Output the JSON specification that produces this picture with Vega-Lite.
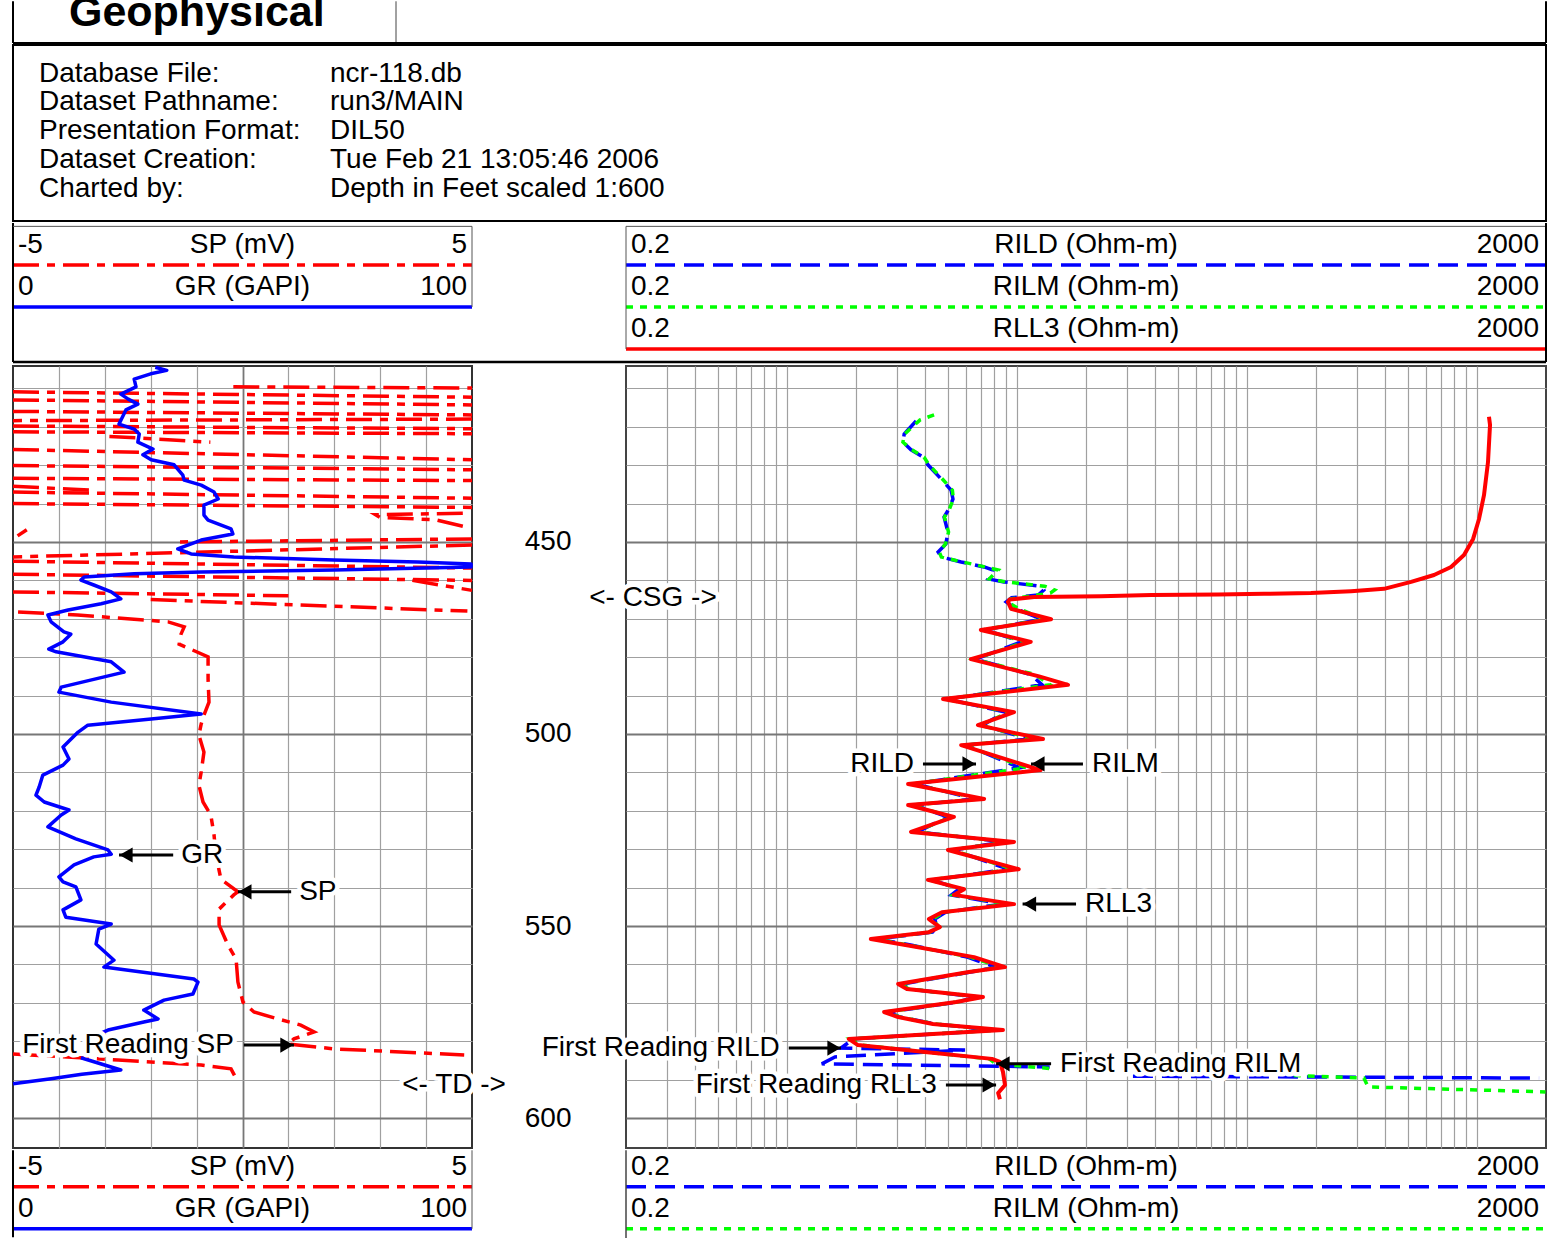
{
"$schema": "https://vega.github.io/schema/vega-lite/v6.json",
"background": "white",
"padding": {"left": 5, "right": 10, "top": 0, "bottom": 0},
"config": {"view": {"stroke": null}, "font": "Liberation Sans", "text": {"font": "Liberation Sans", "fontSize": 28, "color": "black"}},
"datasets": {
"info": [
{"row":1,"k":"Database File:","v":"ncr-118.db"},
{"row":2,"k":"Dataset Pathname:","v":"run3/MAIN"},
{"row":3,"k":"Presentation Format:","v":"DIL50"},
{"row":4,"k":"Dataset Creation:","v":"Tue Feb 21 13:05:46 2006"},
{"row":5,"k":"Charted by:","v":"Depth in Feet scaled 1:600"}
],
"hdrL": [
{"curve":"SP","title":"SP (mV)","lo":"-5","hi":"5","row":1},
{"curve":"GR","title":"GR (GAPI)","lo":"0","hi":"100","row":2}
],
"hdrR": [
{"curve":"RILD","title":"RILD (Ohm-m)","lo":"0.2","hi":"2000","row":1},
{"curve":"RILM","title":"RILM (Ohm-m)","lo":"0.2","hi":"2000","row":2},
{"curve":"RLL3","title":"RLL3 (Ohm-m)","lo":"0.2","hi":"2000","row":3}
],
"gr": [
{"depth":404.5,"gr":31,"seg":1},{"depth":405.3,"gr":33.5,"seg":1},{"depth":406.2,"gr":30,"seg":1},{"depth":407.6,"gr":26.4,"seg":1},
{"depth":409.6,"gr":26.8,"seg":1},{"depth":411.5,"gr":23.5,"seg":1},{"depth":412.8,"gr":25.1,"seg":1},{"depth":414.1,"gr":27.2,"seg":1},
{"depth":415.6,"gr":24.6,"seg":1},{"depth":419.3,"gr":23.1,"seg":1},{"depth":420.6,"gr":26.4,"seg":1},{"depth":421.9,"gr":27.5,"seg":1},
{"depth":424.0,"gr":27.2,"seg":1},{"depth":425.8,"gr":30.5,"seg":1},{"depth":427.3,"gr":28.3,"seg":1},{"depth":428.6,"gr":30.1,"seg":1},
{"depth":429.9,"gr":35.1,"seg":1},{"depth":432.6,"gr":37.0,"seg":1},{"depth":433.9,"gr":37.3,"seg":1},{"depth":435.2,"gr":41.0,"seg":1},
{"depth":437.0,"gr":43.8,"seg":1},{"depth":438.8,"gr":44.7,"seg":1},{"depth":440.4,"gr":41.6,"seg":1},{"depth":443.0,"gr":41.6,"seg":1},
{"depth":444.3,"gr":42.5,"seg":1},{"depth":446.6,"gr":47.5,"seg":1},{"depth":447.9,"gr":47.9,"seg":1},{"depth":449.5,"gr":41.0,"seg":1},
{"depth":451.8,"gr":35.9,"seg":1},{"depth":453.1,"gr":38.8,"seg":1},{"depth":453.9,"gr":48.1,"seg":1},{"depth":454.7,"gr":69.9,"seg":1},
{"depth":455.2,"gr":88.2,"seg":1},{"depth":455.7,"gr":99.8,"seg":1},{"depth":456.5,"gr":99.8,"seg":1},{"depth":457.3,"gr":69.9,"seg":1},
{"depth":457.8,"gr":41.0,"seg":1},{"depth":458.3,"gr":26.4,"seg":1},{"depth":459.1,"gr":15.5,"seg":1},{"depth":459.9,"gr":14.8,"seg":1},
{"depth":461.2,"gr":17.6,"seg":1},{"depth":463.0,"gr":21.4,"seg":1},{"depth":464.8,"gr":23.5,"seg":1},{"depth":466.1,"gr":19.2,"seg":1},
{"depth":467.7,"gr":12.0,"seg":1},{"depth":469.0,"gr":7.6,"seg":1},{"depth":470.8,"gr":8.3,"seg":1},{"depth":473.4,"gr":11.1,"seg":1},
{"depth":474.0,"gr":12.6,"seg":1},{"depth":476.0,"gr":10.9,"seg":1},{"depth":477.9,"gr":7.8,"seg":1},{"depth":478.6,"gr":9.4,"seg":1},
{"depth":481.2,"gr":21.4,"seg":1},{"depth":483.9,"gr":24.2,"seg":1},{"depth":487.8,"gr":10.5,"seg":1},{"depth":489.1,"gr":10.0,"seg":1},
{"depth":491.7,"gr":21.4,"seg":1},{"depth":494.8,"gr":41.0,"seg":1},{"depth":496.1,"gr":30.1,"seg":1},{"depth":497.7,"gr":16.3,"seg":1},
{"depth":499.5,"gr":14.2,"seg":1},{"depth":502.1,"gr":12.0,"seg":1},{"depth":503.4,"gr":10.9,"seg":1},{"depth":506.5,"gr":12.2,"seg":1},
{"depth":508.1,"gr":10.9,"seg":1},{"depth":510.7,"gr":6.5,"seg":1},{"depth":513.8,"gr":5.7,"seg":1},{"depth":515.9,"gr":5.0,"seg":1},
{"depth":517.7,"gr":6.8,"seg":1},{"depth":519.8,"gr":12.2,"seg":1},{"depth":521.1,"gr":10.5,"seg":1},{"depth":524.2,"gr":7.6,"seg":1},
{"depth":527.3,"gr":13.7,"seg":1},{"depth":530.2,"gr":20.7,"seg":1},{"depth":531.3,"gr":21.4,"seg":1},{"depth":532.0,"gr":17.6,"seg":1},
{"depth":534.1,"gr":13.3,"seg":1},{"depth":537.2,"gr":10.0,"seg":1},{"depth":538.5,"gr":10.9,"seg":1},{"depth":539.8,"gr":13.7,"seg":1},
{"depth":543.2,"gr":14.8,"seg":1},{"depth":545.8,"gr":10.9,"seg":1},{"depth":547.7,"gr":11.5,"seg":1},{"depth":549.5,"gr":21.4,"seg":1},
{"depth":550.8,"gr":18.7,"seg":1},{"depth":554.7,"gr":18.1,"seg":1},{"depth":558.9,"gr":22.0,"seg":1},{"depth":560.7,"gr":19.8,"seg":1},
{"depth":563.8,"gr":39.4,"seg":1},{"depth":564.6,"gr":40.3,"seg":1},{"depth":567.7,"gr":39.2,"seg":1},{"depth":569.3,"gr":32.9,"seg":1},
{"depth":571.9,"gr":28.5,"seg":1},{"depth":574.2,"gr":31.6,"seg":1},{"depth":575.0,"gr":28.5,"seg":1},{"depth":577.1,"gr":20.7,"seg":1},
{"depth":578.5,"gr":18.0,"seg":1},
{"depth":584.3,"gr":14.8,"seg":2},{"depth":587.5,"gr":23.5,"seg":2},{"depth":588.6,"gr":15.0,"seg":2},{"depth":589.8,"gr":8.3,"seg":2},{"depth":591.1,"gr":0.0,"seg":2}
],
"sp": [
{"depth":409.6,"sp":-0.2,"seg":"a"},{"depth":409.9,"sp":5,"seg":"a"},
{"depth":410.9,"sp":-5,"seg":"b"},{"depth":412.3,"sp":5,"seg":"b"},
{"depth":413.0,"sp":-5,"seg":"c"},{"depth":414.3,"sp":5,"seg":"c"},
{"depth":416.0,"sp":-5,"seg":"d"},{"depth":416.9,"sp":5,"seg":"d"},
{"depth":418.4,"sp":-5,"seg":"e"},{"depth":418.0,"sp":5,"seg":"e"},
{"depth":419.8,"sp":-5,"seg":"f"},{"depth":420.5,"sp":5,"seg":"f"},
{"depth":421.3,"sp":-5,"seg":"g"},{"depth":421.8,"sp":5,"seg":"g"},
{"depth":422.5,"sp":-2.9,"seg":"h"},{"depth":424.0,"sp":-0.7,"seg":"h"},
{"depth":425.9,"sp":-5,"seg":"i"},{"depth":428.6,"sp":5,"seg":"i"},
{"depth":430.1,"sp":-5,"seg":"j"},{"depth":431.2,"sp":5,"seg":"j"},
{"depth":433.4,"sp":-5,"seg":"k"},{"depth":434.0,"sp":5,"seg":"k"},
{"depth":435.5,"sp":-5,"seg":"l"},{"depth":436.5,"sp":-3.3,"seg":"l"},
{"depth":437.0,"sp":-5,"seg":"m"},{"depth":438.6,"sp":5,"seg":"m"},
{"depth":440.0,"sp":-5,"seg":"n"},{"depth":441.0,"sp":5,"seg":"n"},
{"depth":442.5,"sp":4.8,"seg":"o"},{"depth":442.9,"sp":2.9,"seg":"o"},{"depth":443.6,"sp":3.0,"seg":"o"},{"depth":444.2,"sp":4.2,"seg":"o"},{"depth":446.2,"sp":4.9,"seg":"o"},
{"depth":446.8,"sp":-4.7,"seg":"p"},{"depth":448.4,"sp":-4.9,"seg":"p"},
{"depth":450.0,"sp":-1.5,"seg":"q"},{"depth":449.2,"sp":5,"seg":"q"},
{"depth":453.9,"sp":-5,"seg":"r"},{"depth":450.8,"sp":5,"seg":"r"},
{"depth":455.0,"sp":-5,"seg":"s"},{"depth":456.8,"sp":5,"seg":"s"},
{"depth":458.4,"sp":-5,"seg":"t"},{"depth":460.0,"sp":5,"seg":"t"},
{"depth":460.0,"sp":3.7,"seg":"u"},{"depth":462.6,"sp":5,"seg":"u"},
{"depth":463.0,"sp":-5,"seg":"v"},{"depth":464.0,"sp":1.0,"seg":"v"},
{"depth":465.0,"sp":-2.0,"seg":"w"},{"depth":468.0,"sp":4.9,"seg":"w"},
{"depth":468.2,"sp":-4.89,"seg":"main"},{"depth":469.0,"sp":-3.59,"seg":"main"},{"depth":470.8,"sp":-1.62,"seg":"main"},
{"depth":472.1,"sp":-1.27,"seg":"main"},{"depth":474.0,"sp":-1.34,"seg":"main"},{"depth":476.6,"sp":-1.38,"seg":"main"},
{"depth":479.9,"sp":-0.75,"seg":"main"},{"depth":485.7,"sp":-0.75,"seg":"main"},{"depth":491.7,"sp":-0.73,"seg":"main"},
{"depth":495.1,"sp":-0.84,"seg":"main"},{"depth":497.4,"sp":-0.90,"seg":"main"},{"depth":500.3,"sp":-0.95,"seg":"main"},
{"depth":504.7,"sp":-0.84,"seg":"main"},{"depth":509.9,"sp":-0.90,"seg":"main"},{"depth":513.3,"sp":-0.95,"seg":"main"},
{"depth":517.7,"sp":-0.86,"seg":"main"},{"depth":521.1,"sp":-0.69,"seg":"main"},{"depth":526.3,"sp":-0.62,"seg":"main"},
{"depth":531.5,"sp":-0.58,"seg":"main"},{"depth":537.8,"sp":-0.47,"seg":"main"},{"depth":541.1,"sp":-0.10,"seg":"main"},
{"depth":541.9,"sp":-0.19,"seg":"main"},{"depth":545.6,"sp":-0.51,"seg":"main"},{"depth":549.7,"sp":-0.51,"seg":"main"},
{"depth":554.9,"sp":-0.32,"seg":"main"},{"depth":558.6,"sp":-0.14,"seg":"main"},{"depth":564.6,"sp":-0.10,"seg":"main"},
{"depth":569.8,"sp":0.01,"seg":"main"},{"depth":572.4,"sp":0.25,"seg":"main"},{"depth":574.2,"sp":0.77,"seg":"main"},
{"depth":575.8,"sp":1.27,"seg":"main"},{"depth":577.6,"sp":1.56,"seg":"main"},{"depth":579.4,"sp":1.12,"seg":"main"},
{"depth":580.7,"sp":0.99,"seg":"main"},{"depth":582.0,"sp":1.99,"seg":"main"},{"depth":582.8,"sp":3.45,"seg":"main"},
{"depth":583.6,"sp":4.83,"seg":"main"},
{"depth":583.3,"sp":-5,"seg":"main2"},{"depth":584.9,"sp":-2.71,"seg":"main2"},{"depth":586.2,"sp":-0.90,"seg":"main2"},
{"depth":587.2,"sp":-0.25,"seg":"main2"},{"depth":590.6,"sp":-0.10,"seg":"main2"}
],
"rll3": [
{"depth":417.4,"v":1130},{"depth":419.5,"v":1142},{"depth":429.2,"v":1119},{"depth":437.8,"v":1075},{"depth":444.0,"v":1023},
{"depth":449.2,"v":964},{"depth":453.4,"v":880},{"depth":456.5,"v":773},{"depth":458.6,"v":652},{"depth":460.4,"v":518},
{"depth":462.2,"v":395},{"depth":462.8,"v":284},{"depth":463.3,"v":190},{"depth":463.5,"v":119},{"depth":463.7,"v":75},
{"depth":463.8,"v":38.4},{"depth":464.1,"v":23.2},{"depth":464.3,"v":11.9},{"depth":465.0,"v":9.3},{"depth":465.6,"v":9.16},
{"depth":467.4,"v":9.44},{"depth":470.1,"v":14.1},{"depth":472.9,"v":6.98},{"depth":476.0,"v":11.5},{"depth":480.5,"v":6.32},
{"depth":485.0,"v":12.5},{"depth":487.2,"v":16.7},{"depth":490.9,"v":4.78},{"depth":494.3,"v":9.73},{"depth":497.7,"v":6.78},
{"depth":501.3,"v":13.0},{"depth":502.9,"v":5.73},{"depth":509.4,"v":12.7},{"depth":513.0,"v":3.37},{"depth":516.9,"v":7.21},
{"depth":518.5,"v":3.37},{"depth":521.6,"v":5.33},{"depth":525.5,"v":3.47},{"depth":528.1,"v":9.73},{"depth":530.2,"v":5.02},
{"depth":535.2,"v":10.2},{"depth":538.0,"v":4.11},{"depth":540.4,"v":5.90},{"depth":541.9,"v":5.33},{"depth":544.3,"v":9.73},
{"depth":546.4,"v":4.73},{"depth":548.2,"v":4.15},{"depth":550.3,"v":4.63},{"depth":551.6,"v":4.15},{"depth":553.4,"v":2.32},
{"depth":555.0,"v":3.33},{"depth":558.1,"v":6.52},{"depth":560.7,"v":8.89},{"depth":562.0,"v":6.19},{"depth":565.1,"v":3.05},
{"depth":566.4,"v":3.33},{"depth":568.5,"v":7.13},{"depth":569.8,"v":5.45},{"depth":572.4,"v":2.65},{"depth":573.7,"v":3.05},
{"depth":575.5,"v":4.32},{"depth":577.1,"v":8.71},{"depth":578.1,"v":4.32},{"depth":579.4,"v":1.86},{"depth":581.0,"v":2.04},
{"depth":582.8,"v":3.99},{"depth":584.6,"v":7.80},{"depth":585.4,"v":8.45},{"depth":588.0,"v":8.71},{"depth":591.4,"v":8.89},
{"depth":593.5,"v":8.3},{"depth":595.1,"v":8.45}
],
"rild": [
{"depth":418.5,"v":3.65,"seg":1},{"depth":421.9,"v":3.24,"seg":1},{"depth":424.0,"v":3.20,"seg":1},{"depth":426.0,"v":3.47,"seg":1},
{"depth":427.9,"v":3.91,"seg":1},{"depth":429.9,"v":4.11,"seg":1},{"depth":433.6,"v":4.69,"seg":1},{"depth":436.5,"v":5.18,"seg":1},
{"depth":438.8,"v":5.28,"seg":1},{"depth":441.4,"v":5.07,"seg":1},{"depth":443.5,"v":4.83,"seg":1},{"depth":447.4,"v":5.02,"seg":1},
{"depth":450.5,"v":4.92,"seg":1},{"depth":452.6,"v":4.55,"seg":1},{"depth":453.9,"v":4.69,"seg":1},{"depth":455.2,"v":5.73,"seg":1},
{"depth":456.5,"v":7.21,"seg":1},{"depth":457.3,"v":7.89,"seg":1},{"depth":459.6,"v":7.50,"seg":1},{"depth":460.4,"v":8.8,"seg":1},
{"depth":461.5,"v":12.7,"seg":1},{"depth":462.5,"v":13.1,"seg":1},{"depth":463.8,"v":12.4,"seg":1},{"depth":464.5,"v":9.5,"seg":1},
{"depth":465.6,"v":9.0,"seg":1},{"depth":467.4,"v":9.9,"seg":1},{"depth":470.1,"v":12.8,"seg":1},{"depth":472.9,"v":7.3,"seg":1},
{"depth":476.0,"v":10.5,"seg":1},{"depth":480.5,"v":6.6,"seg":1},{"depth":484.5,"v":11.5,"seg":1},{"depth":487.2,"v":12.9,"seg":1},
{"depth":490.9,"v":5.0,"seg":1},{"depth":494.3,"v":8.9,"seg":1},{"depth":497.7,"v":7.1,"seg":1},{"depth":501.3,"v":11.3,"seg":1},
{"depth":502.9,"v":6.0,"seg":1},{"depth":508.8,"v":10.3,"seg":1},{"depth":513.0,"v":3.6,"seg":1},{"depth":516.9,"v":6.6,"seg":1},
{"depth":518.5,"v":3.6,"seg":1},{"depth":521.6,"v":5.0,"seg":1},{"depth":525.5,"v":3.7,"seg":1},{"depth":528.1,"v":8.8,"seg":1},
{"depth":530.2,"v":5.3,"seg":1},{"depth":535.2,"v":9.2,"seg":1},{"depth":538.0,"v":4.3,"seg":1},{"depth":540.4,"v":5.6,"seg":1},
{"depth":541.9,"v":5.2,"seg":1},{"depth":544.3,"v":8.6,"seg":1},{"depth":546.4,"v":4.9,"seg":1},{"depth":548.2,"v":4.4,"seg":1},
{"depth":550.3,"v":4.5,"seg":1},{"depth":551.6,"v":4.3,"seg":1},{"depth":553.4,"v":2.45,"seg":1},{"depth":555.0,"v":3.5,"seg":1},
{"depth":558.1,"v":6.1,"seg":1},{"depth":560.7,"v":8.1,"seg":1},{"depth":562.0,"v":6.3,"seg":1},{"depth":565.1,"v":3.2,"seg":1},
{"depth":566.4,"v":3.4,"seg":1},{"depth":568.5,"v":6.7,"seg":1},{"depth":569.8,"v":5.5,"seg":1},{"depth":572.4,"v":2.8,"seg":1},
{"depth":573.7,"v":3.1,"seg":1},{"depth":575.5,"v":4.4,"seg":1},{"depth":577.1,"v":8.0,"seg":1},{"depth":578.1,"v":4.4,"seg":1},
{"depth":579.4,"v":1.95,"seg":1},{"depth":581.8,"v":1.72,"seg":1},{"depth":582.3,"v":5.96,"seg":1},{"depth":584.1,"v":1.62,"seg":1},
{"depth":585.9,"v":1.42,"seg":1},{"depth":586.7,"v":13.9,"seg":1},
{"depth":589.1,"v":32,"seg":2},{"depth":589.6,"v":1866,"seg":2}
],
"rilm": [
{"depth":416.9,"v":4.37,"seg":1},{"depth":418.2,"v":3.8,"seg":1},{"depth":421.9,"v":3.25,"seg":1},{"depth":424.0,"v":3.2,"seg":1},
{"depth":426.0,"v":3.5,"seg":1},{"depth":427.9,"v":3.95,"seg":1},{"depth":429.9,"v":4.15,"seg":1},{"depth":433.6,"v":4.75,"seg":1},
{"depth":436.5,"v":5.25,"seg":1},{"depth":438.8,"v":5.3,"seg":1},{"depth":441.4,"v":5.1,"seg":1},{"depth":443.5,"v":4.85,"seg":1},
{"depth":447.4,"v":5.05,"seg":1},{"depth":450.5,"v":4.9,"seg":1},{"depth":452.6,"v":4.6,"seg":1},{"depth":453.9,"v":4.7,"seg":1},
{"depth":455.2,"v":5.8,"seg":1},{"depth":456.5,"v":7.3,"seg":1},{"depth":457.3,"v":8.3,"seg":1},{"depth":459.6,"v":7.6,"seg":1},
{"depth":460.4,"v":9.0,"seg":1},{"depth":461.5,"v":13.2,"seg":1},{"depth":462.5,"v":14.6,"seg":1},{"depth":463.3,"v":14.0,"seg":1},
{"depth":464.0,"v":11.8,"seg":1},{"depth":464.8,"v":9.4,"seg":1},{"depth":465.6,"v":9.1,"seg":1},{"depth":467.4,"v":10.2,"seg":1},
{"depth":470.1,"v":13.3,"seg":1},{"depth":472.9,"v":7.1,"seg":1},{"depth":476.0,"v":10.9,"seg":1},{"depth":480.5,"v":6.5,"seg":1},
{"depth":484.5,"v":12.0,"seg":1},{"depth":487.2,"v":14.0,"seg":1},{"depth":490.9,"v":4.9,"seg":1},{"depth":494.3,"v":9.3,"seg":1},
{"depth":497.7,"v":6.9,"seg":1},{"depth":501.3,"v":12.0,"seg":1},{"depth":502.9,"v":5.9,"seg":1},{"depth":508.8,"v":11.0,"seg":1},
{"depth":513.0,"v":3.5,"seg":1},{"depth":516.9,"v":6.9,"seg":1},{"depth":518.5,"v":3.5,"seg":1},{"depth":521.6,"v":5.2,"seg":1},
{"depth":525.5,"v":3.6,"seg":1},{"depth":528.1,"v":9.2,"seg":1},{"depth":530.2,"v":5.2,"seg":1},{"depth":535.2,"v":9.7,"seg":1},
{"depth":538.0,"v":4.2,"seg":1},{"depth":540.4,"v":5.8,"seg":1},{"depth":541.9,"v":5.3,"seg":1},{"depth":544.3,"v":9.2,"seg":1},
{"depth":546.4,"v":4.8,"seg":1},{"depth":548.2,"v":4.3,"seg":1},{"depth":550.3,"v":4.6,"seg":1},{"depth":551.6,"v":4.2,"seg":1},
{"depth":553.4,"v":2.4,"seg":1},{"depth":555.0,"v":3.4,"seg":1},{"depth":558.1,"v":6.3,"seg":1},{"depth":560.7,"v":8.5,"seg":1},
{"depth":562.0,"v":6.2,"seg":1},{"depth":565.1,"v":3.1,"seg":1},{"depth":566.4,"v":3.4,"seg":1},{"depth":568.5,"v":6.9,"seg":1},
{"depth":569.8,"v":5.5,"seg":1},{"depth":572.4,"v":2.7,"seg":1},{"depth":573.7,"v":3.1,"seg":1},{"depth":575.5,"v":4.4,"seg":1},
{"depth":577.1,"v":8.3,"seg":1},{"depth":578.1,"v":4.4,"seg":1},{"depth":579.4,"v":1.9,"seg":1},{"depth":581.0,"v":2.1,"seg":1},
{"depth":582.8,"v":4.0,"seg":1},{"depth":584.6,"v":7.6,"seg":1},{"depth":585.9,"v":8.13,"seg":1},{"depth":587.2,"v":14.5,"seg":1},
{"depth":588.9,"v":160,"seg":2},{"depth":589.6,"v":323,"seg":2},{"depth":591.9,"v":337,"seg":2},{"depth":593.2,"v":1990,"seg":2}
],
"annL": [
{"label":"GR","depth":531.5,"tip":23.1,"tail":34.9,"dir":"L"},
{"label":"SP","depth":541.1,"tip":49.0,"tail":60.6,"dir":"L"},
{"label":"First Reading SP","depth":581.0,"tip":61.2,"tail":50.3,"dir":"R"}
],
"noteL": [{"label":"<- TD ->","depth":591.4,"at":96.1}],
"annR": [
{"label":"RILD","depth":507.8,"tip":6.65,"tail":3.91,"dir":"R"},
{"label":"RILM","depth":507.8,"tip":11.53,"tail":19.4,"dir":"L"},
{"label":"RLL3","depth":544.3,"tip":10.6,"tail":18.1,"dir":"L"},
{"label":"First Reading RILD","depth":581.8,"tip":1.72,"tail":1.02,"dir":"R"},
{"label":"First Reading RILM","depth":585.9,"tip":8.13,"tail":14.1,"dir":"L"},
{"label":"First Reading RLL3","depth":591.4,"tip":8.13,"tail":4.92,"dir":"R"}
],
"noteR": [{"label":"<- CSG ->","depth":464.6,"at":0.262}]
},
"spacing": 0,
"vconcat": [
{
 "spacing": 0, "bounds": "flush",
 "hconcat": [
  {"width": 383, "height": 43, "data": {"values": [{}]},
   "layer": [
    {"mark": {"type": "text", "fontSize": 43, "fontWeight": "bold", "align": "center", "baseline": "alphabetic", "clip": true},
     "encoding": {"x": {"datum": 0.48, "type": "quantitative", "scale": {"domain": [0,1]}, "axis": null},
                  "y": {"datum": 0.6, "type": "quantitative", "scale": {"domain": [0,1], "reverse": true}, "axis": null},
                  "text": {"value": "Geophysical"}}},
    {"mark": {"type": "rule", "color": "black", "strokeWidth": 2},
     "encoding": {"x": {"datum": 0, "type": "quantitative", "scale": {"domain": [0,1]}, "axis": null},
                  "y": {"datum": 0.03, "type": "quantitative", "scale": {"domain": [0,1], "reverse": true}, "axis": null}, "y2": {"datum": 1}}},
    {"mark": {"type": "rule", "color": "#444", "strokeWidth": 1},
     "encoding": {"x": {"datum": 1, "type": "quantitative", "scale": {"domain": [0,1]}, "axis": null},
                  "y": {"datum": 0.03, "type": "quantitative", "scale": {"domain": [0,1], "reverse": true}, "axis": null}, "y2": {"datum": 1}}},
    {"mark": {"type": "rule", "color": "black", "strokeWidth": 2},
     "encoding": {"x": {"datum": 0, "type": "quantitative", "scale": {"domain": [0,1]}, "axis": null}, "x2": {"datum": 1},
                  "y": {"datum": 1, "type": "quantitative", "scale": {"domain": [0,1], "reverse": true}, "axis": null}}}
   ]},
  {"width": 1150, "height": 43, "data": {"values": [{}]},
   "layer": [
    {"mark": {"type": "rule", "color": "black", "strokeWidth": 2},
     "encoding": {"x": {"datum": 1, "type": "quantitative", "scale": {"domain": [0,1]}, "axis": null},
                  "y": {"datum": 0.03, "type": "quantitative", "scale": {"domain": [0,1], "reverse": true}, "axis": null}, "y2": {"datum": 1}}},
    {"mark": {"type": "rule", "color": "black", "strokeWidth": 2},
     "encoding": {"x": {"datum": 0, "type": "quantitative", "scale": {"domain": [0,1]}, "axis": null}, "x2": {"datum": 1},
                  "y": {"datum": 1, "type": "quantitative", "scale": {"domain": [0,1], "reverse": true}, "axis": null}}}
   ]}
 ]
},
{
 "width": 1533, "height": 176,
 "view": {"stroke": "black", "strokeWidth": 2},
 "data": {"name": "info"},
 "encoding": {"y": {"field": "row", "type": "quantitative", "scale": {"domain": [0, 6.122], "reverse": true}, "axis": null}},
 "layer": [
  {"mark": {"type": "text", "align": "left", "baseline": "middle", "dx": 26, "fontSize": 28},
   "encoding": {"x": {"datum": 0, "type": "quantitative", "scale": {"domain": [0,1]}, "axis": null}, "text": {"field": "k"}}},
  {"mark": {"type": "text", "align": "left", "baseline": "middle", "dx": 317, "fontSize": 28},
   "encoding": {"x": {"datum": 0, "type": "quantitative", "scale": {"domain": [0,1]}, "axis": null}, "text": {"field": "v"}}}
 ]
},
{
 "spacing": 0, "bounds": "flush",
 "hconcat": [
  {"width": 459, "height": 139,
   "layer": [
    {"data": {"name": "hdrL"}, "mark": {"type": "rule", "strokeWidth": 3.5},
     "encoding": {"x": {"datum": 0, "type": "quantitative", "scale": {"domain": [0,1]}, "axis": null}, "x2": {"datum": 1},
                  "y": {"field": "row", "type": "quantitative", "scale": {"domain": [0, 3.31], "reverse": true}, "axis": null},
                  "color": {"field": "curve", "type": "nominal", "scale": {"domain": ["SP","GR","RILD","RILM","RLL3"], "range": ["#ff0000","#0000ff","#0000ff","#00ff00","#ff0000"]}, "legend": null},
                  "strokeDash": {"field": "curve", "type": "nominal", "scale": {"domain": ["SP","GR","RILD","RILM","RLL3"], "range": [[26,8,8,8],[1,0],[20,9],[7,7],[1,0]]}, "legend": null}}},
    {"data": {"name": "hdrL"}, "mark": {"type": "text", "align": "left", "baseline": "middle", "dx": 5, "dy": -20, "fontSize": 28},
     "encoding": {"x": {"datum": 0, "type": "quantitative", "scale": {"domain": [0,1]}, "axis": null},
                  "y": {"field": "row", "type": "quantitative", "scale": {"domain": [0, 3.31], "reverse": true}, "axis": null}, "text": {"field": "lo"}}},
    {"data": {"name": "hdrL"}, "mark": {"type": "text", "align": "center", "baseline": "middle", "dy": -20, "fontSize": 28},
     "encoding": {"x": {"datum": 0.5, "type": "quantitative", "scale": {"domain": [0,1]}, "axis": null},
                  "y": {"field": "row", "type": "quantitative", "scale": {"domain": [0, 3.31], "reverse": true}, "axis": null}, "text": {"field": "title"}}},
    {"data": {"name": "hdrL"}, "mark": {"type": "text", "align": "right", "baseline": "middle", "dx": -5, "dy": -20, "fontSize": 28},
     "encoding": {"x": {"datum": 1, "type": "quantitative", "scale": {"domain": [0,1]}, "axis": null},
                  "y": {"field": "row", "type": "quantitative", "scale": {"domain": [0, 3.31], "reverse": true}, "axis": null}, "text": {"field": "hi"}}},
    {"data": {"values": [{}]}, "mark": {"type": "rule", "color": "black", "strokeWidth": 2},
     "encoding": {"x": {"datum": 0, "type": "quantitative", "scale": {"domain": [0,1]}, "axis": null},
                  "y": {"datum": 0, "type": "quantitative", "scale": {"domain": [0, 3.31], "reverse": true}, "axis": null}, "y2": {"datum": 3.31}}},
    {"data": {"values": [{}]}, "mark": {"type": "rule", "color": "#555", "strokeWidth": 1},
     "encoding": {"x": {"datum": 0, "type": "quantitative", "scale": {"domain": [0,1]}, "axis": null}, "x2": {"datum": 1},
                  "y": {"datum": 0.08, "type": "quantitative", "scale": {"domain": [0, 3.31], "reverse": true}, "axis": null}}},
    {"data": {"values": [{}]}, "mark": {"type": "rule", "color": "#555", "strokeWidth": 1},
     "encoding": {"x": {"datum": 1, "type": "quantitative", "scale": {"domain": [0,1]}, "axis": null},
                  "y": {"datum": 0.08, "type": "quantitative", "scale": {"domain": [0, 3.31], "reverse": true}, "axis": null}, "y2": {"datum": 2}}},
    {"data": {"values": [{}]}, "mark": {"type": "rule", "color": "black", "strokeWidth": 2.5},
     "encoding": {"x": {"datum": 0, "type": "quantitative", "scale": {"domain": [0,1]}, "axis": null}, "x2": {"datum": 1},
                  "y": {"datum": 3.31, "type": "quantitative", "scale": {"domain": [0, 3.31], "reverse": true}, "axis": null}}}
   ]},
  {"width": 154, "height": 139, "data": {"values": [{}]},
   "mark": {"type": "rule", "color": "black", "strokeWidth": 2.5},
   "encoding": {"x": {"datum": 0, "type": "quantitative", "scale": {"domain": [0,1]}, "axis": null}, "x2": {"datum": 1},
                "y": {"datum": 3.31, "type": "quantitative", "scale": {"domain": [0, 3.31], "reverse": true}, "axis": null}}},
  {"width": 920, "height": 139,
   "layer": [
    {"data": {"name": "hdrR"}, "mark": {"type": "rule", "strokeWidth": 3.5},
     "encoding": {"x": {"datum": 0, "type": "quantitative", "scale": {"domain": [0,1]}, "axis": null}, "x2": {"datum": 1},
                  "y": {"field": "row", "type": "quantitative", "scale": {"domain": [0, 3.31], "reverse": true}, "axis": null},
                  "color": {"field": "curve", "type": "nominal", "scale": {"domain": ["SP","GR","RILD","RILM","RLL3"], "range": ["#ff0000","#0000ff","#0000ff","#00ff00","#ff0000"]}, "legend": null},
                  "strokeDash": {"field": "curve", "type": "nominal", "scale": {"domain": ["SP","GR","RILD","RILM","RLL3"], "range": [[26,8,8,8],[1,0],[20,9],[7,7],[1,0]]}, "legend": null}}},
    {"data": {"name": "hdrR"}, "mark": {"type": "text", "align": "left", "baseline": "middle", "dx": 5, "dy": -20, "fontSize": 28},
     "encoding": {"x": {"datum": 0, "type": "quantitative", "scale": {"domain": [0,1]}, "axis": null},
                  "y": {"field": "row", "type": "quantitative", "scale": {"domain": [0, 3.31], "reverse": true}, "axis": null}, "text": {"field": "lo"}}},
    {"data": {"name": "hdrR"}, "mark": {"type": "text", "align": "center", "baseline": "middle", "dy": -20, "fontSize": 28},
     "encoding": {"x": {"datum": 0.5, "type": "quantitative", "scale": {"domain": [0,1]}, "axis": null},
                  "y": {"field": "row", "type": "quantitative", "scale": {"domain": [0, 3.31], "reverse": true}, "axis": null}, "text": {"field": "title"}}},
    {"data": {"name": "hdrR"}, "mark": {"type": "text", "align": "right", "baseline": "middle", "dx": -7, "dy": -20, "fontSize": 28},
     "encoding": {"x": {"datum": 1, "type": "quantitative", "scale": {"domain": [0,1]}, "axis": null},
                  "y": {"field": "row", "type": "quantitative", "scale": {"domain": [0, 3.31], "reverse": true}, "axis": null}, "text": {"field": "hi"}}},
    {"data": {"values": [{}]}, "mark": {"type": "rule", "color": "#555", "strokeWidth": 1},
     "encoding": {"x": {"datum": 0, "type": "quantitative", "scale": {"domain": [0,1]}, "axis": null},
                  "y": {"datum": 0.08, "type": "quantitative", "scale": {"domain": [0, 3.31], "reverse": true}, "axis": null}, "y2": {"datum": 3}}},
    {"data": {"values": [{}]}, "mark": {"type": "rule", "color": "#555", "strokeWidth": 1},
     "encoding": {"x": {"datum": 0, "type": "quantitative", "scale": {"domain": [0,1]}, "axis": null}, "x2": {"datum": 1},
                  "y": {"datum": 0.08, "type": "quantitative", "scale": {"domain": [0, 3.31], "reverse": true}, "axis": null}}},
    {"data": {"values": [{}]}, "mark": {"type": "rule", "color": "black", "strokeWidth": 2},
     "encoding": {"x": {"datum": 1, "type": "quantitative", "scale": {"domain": [0,1]}, "axis": null},
                  "y": {"datum": 0, "type": "quantitative", "scale": {"domain": [0, 3.31], "reverse": true}, "axis": null}, "y2": {"datum": 3.31}}},
    {"data": {"values": [{}]}, "mark": {"type": "rule", "color": "black", "strokeWidth": 2.5},
     "encoding": {"x": {"datum": 0, "type": "quantitative", "scale": {"domain": [0,1]}, "axis": null}, "x2": {"datum": 1},
                  "y": {"datum": 3.31, "type": "quantitative", "scale": {"domain": [0, 3.31], "reverse": true}, "axis": null}}}
   ]}
 ]
},
{
 "spacing": 0, "bounds": "flush",
 "hconcat": [
  {"width": 459, "height": 782,
   "view": {"stroke": "#333", "strokeWidth": 2},
   "resolve": {"scale": {"x": "independent"}},
   "encoding": {"y": {"field": "depth", "type": "quantitative", "scale": {"domain": [404.17, 607.81], "reverse": true, "nice": false, "zero": false},
      "axis": {"values": [410,420,430,440,450,460,470,480,490,500,510,520,530,540,550,560,570,580,590,600], "grid": true, "labels": false, "ticks": false, "domain": false, "title": null,
               "gridColor": {"condition": {"test": "datum.value % 50 === 0", "value": "#777777"}, "value": "#a0a0a0"},
               "gridWidth": {"condition": {"test": "datum.value % 50 === 0", "value": 2}, "value": 1.2}}}},
   "layer": [
    {"data": {"name": "sp"}, "mark": {"type": "line", "color": "#ff0000", "strokeWidth": 3.5, "strokeDash": [26,8,8,8]},
     "encoding": {"x": {"field": "sp", "type": "quantitative", "scale": {"domain": [-5,5], "nice": false, "zero": false}, "axis": null},
                  "order": {"field": "depth", "type": "quantitative"}, "detail": {"field": "seg", "type": "nominal"}}},
    {"data": {"name": "gr"}, "mark": {"type": "line", "color": "#0000ff", "strokeWidth": 3.5, "strokeJoin": "round"},
     "encoding": {"x": {"field": "gr", "type": "quantitative", "scale": {"domain": [0,100], "nice": false, "zero": false},
                        "axis": {"values": [10,20,30,40,50,60,70,80,90], "grid": true, "labels": false, "ticks": false, "domain": false, "title": null,
                                 "gridColor": {"condition": {"test": "datum.value === 50", "value": "#777777"}, "value": "#a0a0a0"},
                                 "gridWidth": {"condition": {"test": "datum.value === 50", "value": 1.8}, "value": 1.2}}},
                  "order": {"field": "depth", "type": "quantitative"}, "detail": {"field": "seg", "type": "nominal"}}},
    {"data": {"name": "annL"}, "transform": [{"filter": "datum.dir === 'L'"}],
     "mark": {"type": "text", "align": "left", "baseline": "middle", "dx": 8, "fontSize": 28, "color": "white", "stroke": "white", "strokeWidth": 9, "strokeJoin": "round"},
     "encoding": {"x": {"field": "tail", "type": "quantitative", "scale": {"domain": [0,100], "nice": false, "zero": false}, "axis": null}, "text": {"field": "label"}}},
    {"data": {"name": "annL"}, "transform": [{"filter": "datum.dir === 'R'"}],
     "mark": {"type": "text", "align": "right", "baseline": "middle", "dx": -10, "fontSize": 28, "color": "white", "stroke": "white", "strokeWidth": 9, "strokeJoin": "round"},
     "encoding": {"x": {"field": "tail", "type": "quantitative", "scale": {"domain": [0,100], "nice": false, "zero": false}, "axis": null}, "text": {"field": "label"}}},
    {"data": {"name": "noteL"},
     "mark": {"type": "text", "align": "center", "baseline": "middle", "fontSize": 28, "color": "white", "stroke": "white", "strokeWidth": 9, "strokeJoin": "round"},
     "encoding": {"x": {"field": "at", "type": "quantitative", "scale": {"domain": [0,100], "nice": false, "zero": false}, "axis": null}, "text": {"field": "label"}}},
    {"data": {"name": "annL"}, "transform": [{"filter": "datum.dir === 'L'"}],
     "mark": {"type": "text", "align": "left", "baseline": "middle", "dx": 8, "fontSize": 28, "color": "black"},
     "encoding": {"x": {"field": "tail", "type": "quantitative", "scale": {"domain": [0,100], "nice": false, "zero": false}, "axis": null}, "text": {"field": "label"}}},
    {"data": {"name": "annL"}, "transform": [{"filter": "datum.dir === 'R'"}],
     "mark": {"type": "text", "align": "right", "baseline": "middle", "dx": -10, "fontSize": 28, "color": "black"},
     "encoding": {"x": {"field": "tail", "type": "quantitative", "scale": {"domain": [0,100], "nice": false, "zero": false}, "axis": null}, "text": {"field": "label"}}},
    {"data": {"name": "noteL"},
     "mark": {"type": "text", "align": "center", "baseline": "middle", "fontSize": 28, "color": "black"},
     "encoding": {"x": {"field": "at", "type": "quantitative", "scale": {"domain": [0,100], "nice": false, "zero": false}, "axis": null}, "text": {"field": "label"}}},
    {"data": {"name": "annL"}, "mark": {"type": "rule", "color": "black", "strokeWidth": 3},
     "encoding": {"x": {"field": "tip", "type": "quantitative", "scale": {"domain": [0,100], "nice": false, "zero": false}, "axis": null}, "x2": {"field": "tail"}}},
    {"data": {"name": "annL"}, "transform": [{"filter": "datum.dir === 'L'"}],
     "mark": {"type": "point", "shape": "triangle-left", "filled": true, "size": 230, "color": "black", "opacity": 1, "xOffset": 7},
     "encoding": {"x": {"field": "tip", "type": "quantitative", "scale": {"domain": [0,100], "nice": false, "zero": false}, "axis": null}}},
    {"data": {"name": "annL"}, "transform": [{"filter": "datum.dir === 'R'"}],
     "mark": {"type": "point", "shape": "triangle-right", "filled": true, "size": 230, "color": "black", "opacity": 1, "xOffset": -7},
     "encoding": {"x": {"field": "tip", "type": "quantitative", "scale": {"domain": [0,100], "nice": false, "zero": false}, "axis": null}}}
   ]},
  {"width": 154, "height": 782, "data": {"values": []}, "mark": {"type": "rule"}, "encoding": {}},
  {"width": 920, "height": 782,
   "view": {"stroke": "#444", "strokeWidth": 2},
   "encoding": {
     "y": {"field": "depth", "type": "quantitative", "scale": {"domain": [404.17, 607.81], "reverse": true, "nice": false, "zero": false},
      "axis": {"values": [410,420,430,440,450,460,470,480,490,500,510,520,530,540,550,560,570,580,590,600], "grid": true, "labels": true, "ticks": false, "domain": false, "title": null,
               "labelExpr": "datum.value % 50 === 0 ? datum.label : ''", "labelPadding": 55, "labelFontSize": 28, "labelFont": "Liberation Sans", "labelColor": "black",
               "gridColor": {"condition": {"test": "datum.value % 50 === 0", "value": "#777777"}, "value": "#a0a0a0"},
               "gridWidth": {"condition": {"test": "datum.value % 50 === 0", "value": 2}, "value": 1.2}}},
     "x": {"field": "v", "type": "quantitative", "scale": {"type": "log", "domain": [0.2, 2000], "nice": false},
           "axis": {"values": [0.3,0.4,0.5,0.6,0.7,0.8,0.9,1,2,3,4,5,6,7,8,9,10,20,30,40,50,60,70,80,90,100,200,300,400,500,600,700,800,900,1000], "grid": true, "labels": false, "ticks": false, "domain": false, "title": null, "gridColor": "#a0a0a0", "gridWidth": 1.2}}
   },
   "layer": [
    {"data": {"name": "rild"}, "mark": {"type": "line", "color": "#0000ff", "strokeWidth": 3.5, "strokeDash": [20,9]},
     "encoding": {"order": {"field": "depth", "type": "quantitative"}, "detail": {"field": "seg", "type": "nominal"}}},
    {"data": {"name": "rilm"}, "mark": {"type": "line", "color": "#00ff00", "strokeWidth": 3.5, "strokeDash": [7,7]},
     "encoding": {"order": {"field": "depth", "type": "quantitative"}, "detail": {"field": "seg", "type": "nominal"}}},
    {"data": {"name": "rll3"}, "mark": {"type": "line", "color": "#ff0000", "strokeWidth": 4, "strokeJoin": "round"},
     "encoding": {"order": {"field": "depth", "type": "quantitative"}}},
    {"data": {"name": "annR"}, "transform": [{"filter": "datum.dir === 'L'"}],
     "mark": {"type": "text", "align": "left", "baseline": "middle", "dx": 9, "fontSize": 28, "color": "white", "stroke": "white", "strokeWidth": 9, "strokeJoin": "round"},
     "encoding": {"x": {"field": "tail", "type": "quantitative"}, "text": {"field": "label"}}},
    {"data": {"name": "annR"}, "transform": [{"filter": "datum.dir === 'R'"}],
     "mark": {"type": "text", "align": "right", "baseline": "middle", "dx": -9, "fontSize": 28, "color": "white", "stroke": "white", "strokeWidth": 9, "strokeJoin": "round"},
     "encoding": {"x": {"field": "tail", "type": "quantitative"}, "text": {"field": "label"}}},
    {"data": {"name": "noteR"},
     "mark": {"type": "text", "align": "center", "baseline": "middle", "fontSize": 28, "color": "white", "stroke": "white", "strokeWidth": 9, "strokeJoin": "round"},
     "encoding": {"x": {"field": "at", "type": "quantitative"}, "text": {"field": "label"}}},
    {"data": {"name": "annR"}, "transform": [{"filter": "datum.dir === 'L'"}],
     "mark": {"type": "text", "align": "left", "baseline": "middle", "dx": 9, "fontSize": 28, "color": "black"},
     "encoding": {"x": {"field": "tail", "type": "quantitative"}, "text": {"field": "label"}}},
    {"data": {"name": "annR"}, "transform": [{"filter": "datum.dir === 'R'"}],
     "mark": {"type": "text", "align": "right", "baseline": "middle", "dx": -9, "fontSize": 28, "color": "black"},
     "encoding": {"x": {"field": "tail", "type": "quantitative"}, "text": {"field": "label"}}},
    {"data": {"name": "noteR"},
     "mark": {"type": "text", "align": "center", "baseline": "middle", "fontSize": 28, "color": "black"},
     "encoding": {"x": {"field": "at", "type": "quantitative"}, "text": {"field": "label"}}},
    {"data": {"name": "annR"}, "mark": {"type": "rule", "color": "black", "strokeWidth": 3},
     "encoding": {"x": {"field": "tip", "type": "quantitative"}, "x2": {"field": "tail"}}},
    {"data": {"name": "annR"}, "transform": [{"filter": "datum.dir === 'L'"}],
     "mark": {"type": "point", "shape": "triangle-left", "filled": true, "size": 230, "color": "black", "opacity": 1, "xOffset": 7},
     "encoding": {"x": {"field": "tip", "type": "quantitative"}}},
    {"data": {"name": "annR"}, "transform": [{"filter": "datum.dir === 'R'"}],
     "mark": {"type": "point", "shape": "triangle-right", "filled": true, "size": 230, "color": "black", "opacity": 1, "xOffset": -7},
     "encoding": {"x": {"field": "tip", "type": "quantitative"}}}
   ]}
 ]
},
{
 "spacing": 0, "bounds": "flush",
 "hconcat": [
  {"width": 459, "height": 90,
   "layer": [
    {"data": {"name": "hdrL"}, "mark": {"type": "rule", "strokeWidth": 3.5},
     "encoding": {"x": {"datum": 0, "type": "quantitative", "scale": {"domain": [0,1]}, "axis": null}, "x2": {"datum": 1},
                  "y": {"field": "row", "type": "quantitative", "scale": {"domain": [0.1, 2.243], "reverse": true}, "axis": null},
                  "color": {"field": "curve", "type": "nominal", "scale": {"domain": ["SP","GR","RILD","RILM","RLL3"], "range": ["#ff0000","#0000ff","#0000ff","#00ff00","#ff0000"]}, "legend": null},
                  "strokeDash": {"field": "curve", "type": "nominal", "scale": {"domain": ["SP","GR","RILD","RILM","RLL3"], "range": [[26,8,8,8],[1,0],[20,9],[7,7],[1,0]]}, "legend": null}}},
    {"data": {"name": "hdrL"}, "mark": {"type": "text", "align": "left", "baseline": "middle", "dx": 5, "dy": -20, "fontSize": 28},
     "encoding": {"x": {"datum": 0, "type": "quantitative", "scale": {"domain": [0,1]}, "axis": null},
                  "y": {"field": "row", "type": "quantitative", "scale": {"domain": [0.1, 2.243], "reverse": true}, "axis": null}, "text": {"field": "lo"}}},
    {"data": {"name": "hdrL"}, "mark": {"type": "text", "align": "center", "baseline": "middle", "dy": -20, "fontSize": 28},
     "encoding": {"x": {"datum": 0.5, "type": "quantitative", "scale": {"domain": [0,1]}, "axis": null},
                  "y": {"field": "row", "type": "quantitative", "scale": {"domain": [0.1, 2.243], "reverse": true}, "axis": null}, "text": {"field": "title"}}},
    {"data": {"name": "hdrL"}, "mark": {"type": "text", "align": "right", "baseline": "middle", "dx": -5, "dy": -20, "fontSize": 28},
     "encoding": {"x": {"datum": 1, "type": "quantitative", "scale": {"domain": [0,1]}, "axis": null},
                  "y": {"field": "row", "type": "quantitative", "scale": {"domain": [0.1, 2.243], "reverse": true}, "axis": null}, "text": {"field": "hi"}}},
    {"data": {"values": [{}]}, "mark": {"type": "rule", "color": "black", "strokeWidth": 2},
     "encoding": {"x": {"datum": 0, "type": "quantitative", "scale": {"domain": [0,1]}, "axis": null},
                  "y": {"datum": 0.13, "type": "quantitative", "scale": {"domain": [0.1, 2.243], "reverse": true}, "axis": null}, "y2": {"datum": 2.2}}},
    {"data": {"values": [{}]}, "mark": {"type": "rule", "color": "#555", "strokeWidth": 1},
     "encoding": {"x": {"datum": 1, "type": "quantitative", "scale": {"domain": [0,1]}, "axis": null},
                  "y": {"datum": 0.13, "type": "quantitative", "scale": {"domain": [0.1, 2.243], "reverse": true}, "axis": null}, "y2": {"datum": 2}}}
   ]},
  {"width": 154, "height": 90, "data": {"values": []}, "mark": {"type": "rule"}, "encoding": {}},
  {"width": 920, "height": 90,
   "layer": [
    {"data": {"name": "hdrR"}, "transform": [{"filter": "datum.row <= 2"}], "mark": {"type": "rule", "strokeWidth": 3.5},
     "encoding": {"x": {"datum": 0, "type": "quantitative", "scale": {"domain": [0,1]}, "axis": null}, "x2": {"datum": 1},
                  "y": {"field": "row", "type": "quantitative", "scale": {"domain": [0.1, 2.243], "reverse": true}, "axis": null},
                  "color": {"field": "curve", "type": "nominal", "scale": {"domain": ["SP","GR","RILD","RILM","RLL3"], "range": ["#ff0000","#0000ff","#0000ff","#00ff00","#ff0000"]}, "legend": null},
                  "strokeDash": {"field": "curve", "type": "nominal", "scale": {"domain": ["SP","GR","RILD","RILM","RLL3"], "range": [[26,8,8,8],[1,0],[20,9],[7,7],[1,0]]}, "legend": null}}},
    {"data": {"name": "hdrR"}, "transform": [{"filter": "datum.row <= 2"}], "mark": {"type": "text", "align": "left", "baseline": "middle", "dx": 5, "dy": -20, "fontSize": 28},
     "encoding": {"x": {"datum": 0, "type": "quantitative", "scale": {"domain": [0,1]}, "axis": null},
                  "y": {"field": "row", "type": "quantitative", "scale": {"domain": [0.1, 2.243], "reverse": true}, "axis": null}, "text": {"field": "lo"}}},
    {"data": {"name": "hdrR"}, "transform": [{"filter": "datum.row <= 2"}], "mark": {"type": "text", "align": "center", "baseline": "middle", "dy": -20, "fontSize": 28},
     "encoding": {"x": {"datum": 0.5, "type": "quantitative", "scale": {"domain": [0,1]}, "axis": null},
                  "y": {"field": "row", "type": "quantitative", "scale": {"domain": [0.1, 2.243], "reverse": true}, "axis": null}, "text": {"field": "title"}}},
    {"data": {"name": "hdrR"}, "transform": [{"filter": "datum.row <= 2"}], "mark": {"type": "text", "align": "right", "baseline": "middle", "dx": -7, "dy": -20, "fontSize": 28},
     "encoding": {"x": {"datum": 1, "type": "quantitative", "scale": {"domain": [0,1]}, "axis": null},
                  "y": {"field": "row", "type": "quantitative", "scale": {"domain": [0.1, 2.243], "reverse": true}, "axis": null}, "text": {"field": "hi"}}},
    {"data": {"values": [{}]}, "mark": {"type": "rule", "color": "#444", "strokeWidth": 1.5},
     "encoding": {"x": {"datum": 0, "type": "quantitative", "scale": {"domain": [0,1]}, "axis": null},
                  "y": {"datum": 0.13, "type": "quantitative", "scale": {"domain": [0.1, 2.243], "reverse": true}, "axis": null}, "y2": {"datum": 2.22}}}
   ]}
 ]
}
]
}
